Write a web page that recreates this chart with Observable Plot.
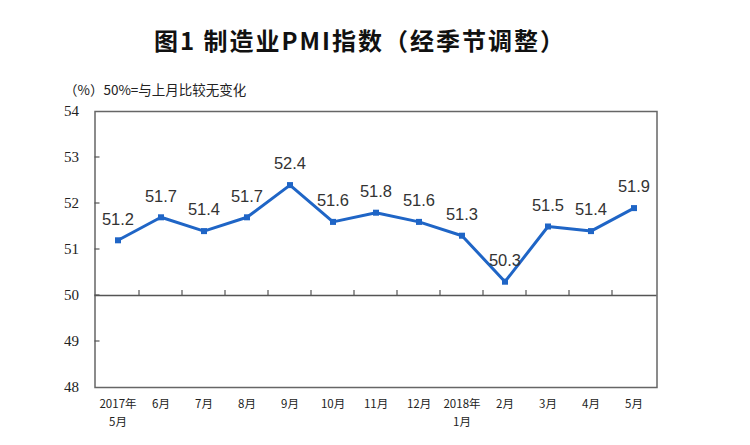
<!DOCTYPE html>
<html>
<head>
<meta charset="utf-8">
<script src="https://cdn.jsdelivr.net/npm/d3@7"></script>
<script src="https://cdn.jsdelivr.net/npm/@observablehq/plot@0.6"></script>
<style>
  html, body { margin: 0; padding: 0; background: #fff; }
  #wrap { position: relative; width: 750px; height: 445px; overflow: hidden; }
  #title { position: absolute; left: 0; width: 720px; top: 22px; text-align: center;
    font-family: "Noto Sans CJK SC", sans-serif; font-weight: bold; font-size: 24px; color: #111; letter-spacing: 2px; }
  #subtitle { position: absolute; left: 64px; top: 79px;
    font-family: "Noto Sans CJK SC", sans-serif; font-size: 13.5px; color: #222; }
  #chart { position: absolute; left: 0; top: 0; }
</style>
</head>
<body>
<div id="wrap">
  <div id="chart"></div>
  <div id="title">图1 制造业PMI指数（经季节调整）</div>
  <div id="subtitle">（%）50%=与上月比较无变化</div>
</div>
<script>
const categories = ["2017年\n5月", "6月", "7月", "8月", "9月", "10月", "11月", "12月", "2018年\n1月", "2月", "3月", "4月", "5月"];
const pmiValues = [51.2, 51.7, 51.4, 51.7, 52.4, 51.6, 51.8, 51.6, 51.3, 50.3, 51.5, 51.4, 51.9];
const yTicks = [48, 49, 50, 51, 52, 53, 54];
const yDomain = [48, 54];
const baseline = 50;

const data = categories.map((c, i) => ({month: c, value: pmiValues[i]}));
const blue = "#1f65c6";

const W = 750, H = 445, mL = 94.5, mR = 93.5, mT = 111, mB = 58;
const innerTicks = yTicks.slice(1, -1);
const boundaryCats = categories.slice(1);

const chart = Plot.plot({
  width: W,
  height: H,
  marginLeft: mL,
  marginRight: mR,
  marginTop: mT,
  marginBottom: mB,
  style: {background: "transparent", overflow: "visible"},
  x: {type: "band", domain: categories, padding: 0, axis: null},
  y: {domain: yDomain, axis: null},
  marks: [
    Plot.frame({stroke: "#666", strokeWidth: 1.5}),
    Plot.ruleY([baseline], {stroke: "#555", strokeWidth: 1.5}),
    // y ticks pointing inward
    Plot.tickY(innerTicks, {y: d => d,
      render: (index, scales, values, dims) => {
        const g = d3.create("svg:g");
        for (const i of index) {
          const yy = scales.y(innerTicks[i]);
          g.append("line").attr("x1", dims.marginLeft).attr("x2", dims.marginLeft + 5)
            .attr("y1", yy).attr("y2", yy).attr("stroke", "#555").attr("stroke-width", 1.2);
        }
        return g.node();
      }}),
    Plot.text(yTicks, {y: d => d, frameAnchor: "left", dx: -16, textAnchor: "end", text: d => String(d),
      fontFamily: "Liberation Serif, serif", fontSize: 15, fill: "#222"}),
    // ticks on the 50 line at category boundaries
    Plot.tickX(boundaryCats, {x: d => d,
      render: (index, scales, values, dims) => {
        const g = d3.create("svg:g");
        const yy = scales.y(baseline);
        for (const i of index) {
          const xx = scales.x(boundaryCats[i]);
          g.append("line").attr("x1", xx).attr("x2", xx).attr("y1", yy).attr("y2", yy - 5)
            .attr("stroke", "#555").attr("stroke-width", 1.2);
        }
        return g.node();
      }}),
    Plot.line(data, {x: "month", y: "value", stroke: blue, strokeWidth: 3}),
    Plot.dot(data, {x: "month", y: "value", symbol: "square", r: 3.4, fill: blue, stroke: null}),
    Plot.text(data, {x: "month", y: "value", text: d => d.value.toFixed(1), dy: -21,
      fontFamily: "Liberation Sans, Arial, sans-serif", fontSize: 16.5, fill: "#333"}),
    Plot.text(categories, {x: d => d, frameAnchor: "bottom", dy: 8, lineAnchor: "top", lineHeight: 1.55,
      text: d => d, fontFamily: "Noto Sans CJK SC, sans-serif", fontSize: 11.5, fill: "#222"})
  ]
});
document.getElementById("chart").appendChild(chart);
</script>
</body>
</html>
